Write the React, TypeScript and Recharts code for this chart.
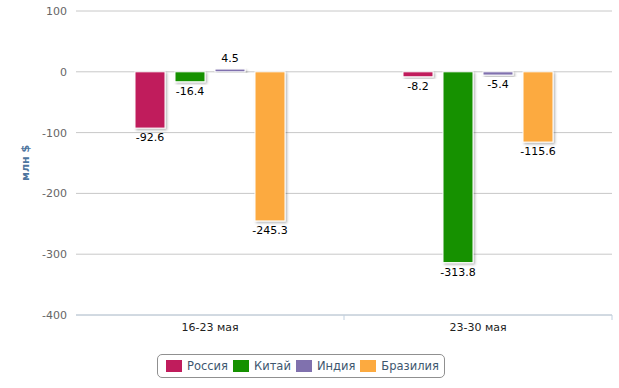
import { BarChart, Bar, XAxis, YAxis, CartesianGrid, LabelList, Label } from "recharts";

const weeks = ["16-23 мая", "23-30 мая"];
const russia = [-92.6, -8.2];
const china = [-16.4, -313.8];
const india = [4.5, -5.4];
const brazil = [-245.3, -115.6];
const yTicks = [-400, -300, -200, -100, 0, 100];

const series = [
  { key: "russia", name: "Россия", color: "#C01C5C" },
  { key: "china", name: "Китай", color: "#159100" },
  { key: "india", name: "Индия", color: "#8071AE" },
  { key: "brazil", name: "Бразилия", color: "#FCAA40" },
];

const data = weeks.map((week, i) => ({
  week,
  russia: russia[i],
  china: china[i],
  india: india[i],
  brazil: brazil[i],
}));

const FONT = "'DejaVu Sans', Verdana, sans-serif";

function ValueLabel(props: any) {
  const { x, y, width, height, value } = props;
  const top = Math.min(y, y + height);
  const bottom = Math.max(y, y + height);
  const ly = value < 0 ? bottom + 10 : top - 10;
  return (
    <text
      x={x + width / 2}
      y={ly}
      textAnchor="middle"
      dominantBaseline="middle"
      fontSize={11}
      fontFamily={FONT}
      fill="#000"
    >
      {value}
    </text>
  );
}

function BarShape(props: any) {
  const { x, y, width, height, fill } = props;
  const top = Math.min(y, y + height);
  const h = Math.abs(height);
  return (
    <rect
      x={x}
      y={top}
      width={width}
      height={Math.max(h, 1)}
      fill={fill}
      stroke="#fff"
      strokeWidth={1}
      filter="url(#barShadow)"
    />
  );
}

// category label + tick mark on the category boundary (Highcharts "between" style)
function WeekTick(props: any) {
  const { x, y, payload } = props;
  const off = payload.offset || 0;
  return (
    <g>
      <line x1={x + off} x2={x + off} y1={y - 8} y2={y - 3} stroke="#C0D0E0" />
      <text x={x} y={y} dy="0.71em" textAnchor="middle" fontSize={11} fontFamily={FONT} fill="#222">
        {payload.value}
      </text>
    </g>
  );
}

function Legend() {
  return (
    <div
      style={{
        position: "absolute",
        left: 157,
        top: 354,
        height: 24,
        border: "1px solid #909090",
        borderRadius: 5,
        display: "flex",
        alignItems: "center",
        padding: "0 5px 0 8px",
        boxSizing: "border-box",
        fontFamily: FONT,
        fontSize: 11.5,
        color: "#3E576F",
        background: "#fff",
      }}
    >
      {series.map((s, i) => (
        <div
          key={s.key}
          style={{ display: "flex", alignItems: "center", marginRight: i < series.length - 1 ? 5 : 0 }}
        >
          <span style={{ width: 16, height: 12, background: s.color, display: "inline-block", marginRight: 5 }} />
          <span>{s.name}</span>
        </div>
      ))}
    </div>
  );
}

export default function App() {
  return (
    <div style={{ position: "absolute", left: 0, top: 0, width: 619, height: 388, background: "#fff" }}>
      <BarChart
        width={619}
        height={388}
        data={data}
        margin={{ top: 11, right: 7, bottom: 43, left: 0 }}
        barSize={30}
        barGap={10}
      >
        <defs>
          <filter id="barShadow" x="-20%" y="-20%" width="150%" height="150%">
            <feDropShadow dx={1.5} dy={1.5} stdDeviation={1} floodColor="#000" floodOpacity={0.3} />
          </filter>
        </defs>
        <CartesianGrid vertical={false} stroke="#C8C8C8" />
        <XAxis
          dataKey="week"
          height={30}
          axisLine={{ stroke: "#C0D0E0" }}
          tickLine={false}
          tickSize={0}
          tickMargin={8}
          tick={<WeekTick />}
        />
        <YAxis
          width={76}
          domain={[-400, 100]}
          ticks={yTicks}
          axisLine={false}
          tickLine={false}
          tickSize={0}
          tickMargin={9}
          tick={{ fontSize: 11, fontFamily: FONT, fill: "#666" }}
        >
          <Label
            value="млн $"
            angle={-90}
            position="insideLeft"
            offset={25}
            style={{ fontSize: 11, fontFamily: FONT, fill: "#4D759E", fontWeight: "bold", textAnchor: "middle" }}
          />
        </YAxis>
        {series.map((s) => (
          <Bar
            key={s.key}
            dataKey={s.key}
            name={s.name}
            fill={s.color}
            isAnimationActive={false}
            shape={<BarShape />}
          >
            <LabelList dataKey={s.key} content={<ValueLabel />} />
          </Bar>
        ))}
      </BarChart>
      <Legend />
    </div>
  );
}
